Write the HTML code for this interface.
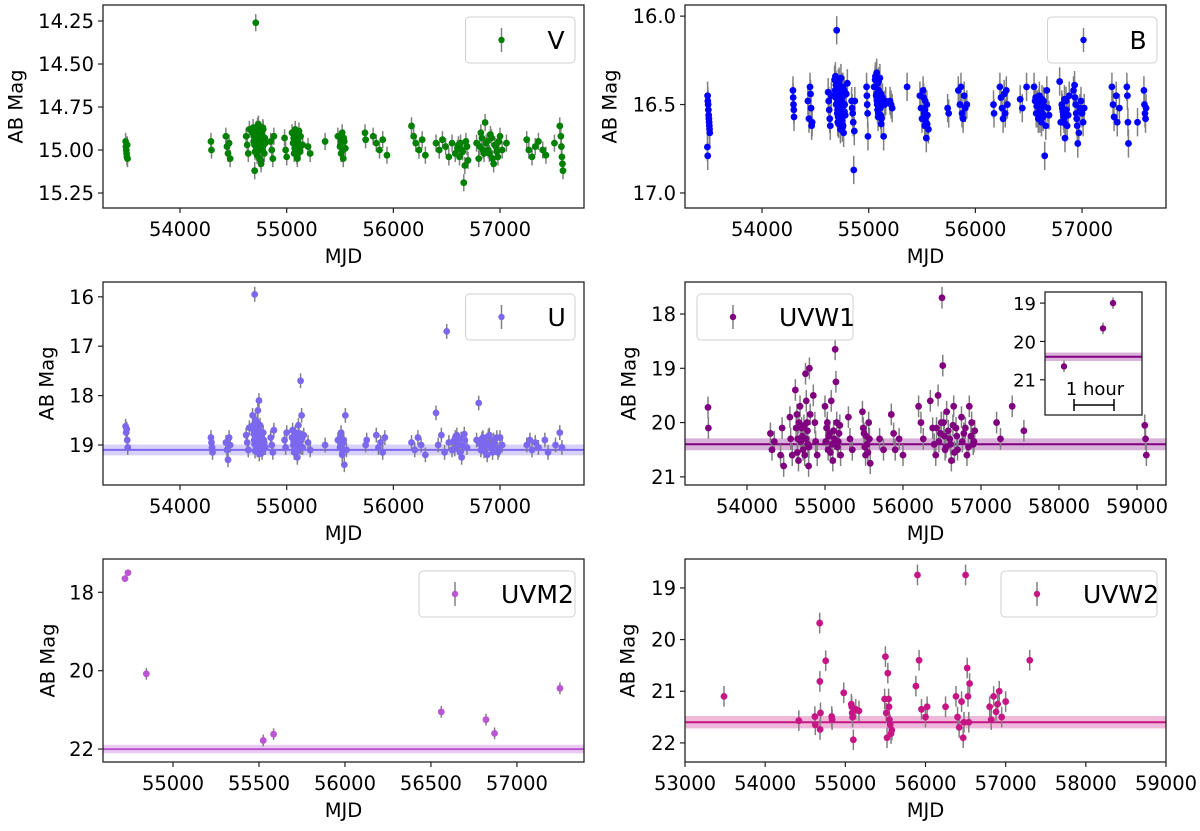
<!DOCTYPE html>
<html><head><meta charset="utf-8"><style>
html,body{margin:0;padding:0;background:#fff;}
svg{display:block;font-family:"DejaVu Sans","Liberation Sans",sans-serif;}
</style></head><body>
<svg id="fig" width="1200" height="831" viewBox="0 0 1200 831" xmlns="http://www.w3.org/2000/svg"></svg>
<script>
// ---------- data ----------
const mjdV=[53490,53493,53496,53499,53502,53505,53508,54290,54295,54430,54440,54450,54460,54470,54620,54630,54640,54650,54680,54690,54700,54710,54715,54720,54730,54735,54740,54745,54750,54755,54760,54770,54780,54790,54800,54850,54860,54870,54880,54980,54990,55000,55050,55060,55070,55080,55090,55100,55110,55120,55130,55150,55200,55220,55360,55480,55500,55510,55520,55530,55540,55550,55734,55740,55810,55840,55870,55900,55940,56170,56190,56210,56240,56270,56300,56400,56430,56460,56490,56520,56550,56580,56610,56640,56660,56670,56690,56780,56800,56820,56840,56860,56880,56900,56920,56940,56960,56980,57000,57020,57060,57250,57270,57300,57330,57360,57400,57430,57510,57560,57570,57575,57580,57585,57590,
54685,54692,54698,54703,54708,54712,54718,54722,54727,54733,54738,54742,54748,54752,54758,54763,54767,54772,54776,54785,54795,55065,55075,55085,55095,55105,55115,55125,55510,55525,55535,56600,56620,56630,56650,56680,56700,56810,56830,56850,56870,56890,56910,56930,56950,56970,56990];
const magV=[14.95,14.98,15.00,15.02,15.04,14.97,15.05,14.95,15.00,14.92,14.98,15.02,14.96,15.05,14.92,14.97,15.02,14.88,14.90,14.95,15.12,14.26,14.88,14.93,15.00,14.85,14.95,15.05,14.90,14.98,15.08,14.92,14.88,15.02,14.96,14.95,15.00,15.05,14.92,14.93,15.00,15.04,14.90,14.96,15.02,14.88,14.98,15.05,14.93,15.00,14.92,14.97,14.98,15.02,14.95,14.92,14.98,15.02,14.90,15.05,14.95,14.99,14.90,14.94,14.92,14.96,15.00,14.94,15.03,14.86,14.92,14.96,15.00,14.94,15.03,14.96,15.00,14.94,14.98,15.04,14.96,15.02,14.97,15.00,15.19,15.09,14.98,14.96,15.05,14.90,15.00,14.84,14.95,15.02,14.93,15.08,14.98,15.04,14.92,15.00,14.96,14.94,15.00,15.04,14.98,14.95,15.00,15.03,14.96,14.86,14.92,14.98,15.04,15.08,15.12,
14.87,14.92,14.97,15.01,14.89,14.94,14.99,15.03,14.86,14.91,14.96,15.00,14.88,14.93,15.06,14.90,14.95,15.00,14.87,14.97,14.93,14.93,14.99,14.91,15.03,14.95,14.89,15.01,14.95,15.00,14.93,14.99,15.04,14.96,15.01,14.95,15.06,14.98,14.93,15.02,14.96,15.00,14.91,15.05,14.97,15.01,14.95];
const errV=0.05;

const mjdB=[53490,53492,53495,53497,53500,53502,53504,53506,53508,53510,53488,53491,54290,54292,54295,54298,54300,54430,54440,54450,54455,54460,54465,54470,54620,54625,54630,54635,54640,54650,54680,54685,54690,54695,54700,54705,54710,54715,54720,54725,54730,54735,54740,54745,54750,54755,54760,54765,54770,54775,54780,54790,54800,54840,54845,54850,54855,54860,54865,54870,54980,54983,54986,54990,54993,55050,55060,55070,55075,55080,55085,55090,55095,55100,55105,55110,55115,55120,55130,55140,55150,55160,55200,55210,55220,55360,55480,55490,55500,55510,55520,55525,55530,55535,55540,55545,55550,55560,55740,55750,55840,55855,55865,55875,55885,55895,55905,55920,56170,56175,56230,56240,56250,56260,56270,56280,56290,56300,56420,56440,56480,56550,56560,56570,56580,56590,56600,56610,56620,56630,56640,56650,56660,56670,56680,56690,56790,56800,56810,56820,56830,56840,56850,56860,56870,56880,56920,56930,56940,56950,56960,56970,56980,56990,57000,57010,57020,57280,57290,57300,57320,57330,57350,57420,57425,57430,57435,57520,57580,57585,57590,57595,57600,
54688,54693,54698,54703,54708,54713,54718,54723,54728,54733,54738,54743,54748,54753,54758,54763,54768,54773,55063,55068,55073,55078,55083,55088,55093,55098,55103,55108,55113,55118,55515,55528,55538,55548,56565,56575,56585,56595,56605,56615,56625,56635,56645,56815,56825,56835,56845,56855,56935,56945,56955];
const magB=[16.45,16.48,16.50,16.53,16.56,16.58,16.60,16.62,16.64,16.66,16.74,16.79,16.42,16.46,16.50,16.53,16.57,16.48,16.58,16.40,16.44,16.52,16.62,16.60,16.43,16.48,16.53,16.58,16.62,16.45,16.36,16.42,16.46,16.50,16.08,16.55,16.60,16.38,16.44,16.52,16.58,16.64,16.35,16.40,16.48,16.54,16.62,16.66,16.42,16.50,16.56,16.44,16.38,16.48,16.52,16.55,16.60,16.87,16.65,16.48,16.40,16.45,16.50,16.55,16.68,16.40,16.36,16.45,16.32,16.50,16.38,16.55,16.42,16.48,16.35,16.52,16.44,16.58,16.46,16.68,16.50,16.48,16.48,16.50,16.52,16.40,16.45,16.52,16.58,16.42,16.55,16.62,16.48,16.60,16.69,16.50,16.56,16.64,16.52,16.55,16.42,16.50,16.40,16.55,16.58,16.45,16.52,16.50,16.50,16.55,16.40,16.46,16.52,16.58,16.44,16.55,16.42,16.50,16.47,16.52,16.40,16.40,16.48,16.55,16.50,16.58,16.45,16.52,16.60,16.55,16.48,16.79,16.62,16.42,16.52,16.56,16.37,16.60,16.50,16.54,16.58,16.69,16.48,16.62,16.56,16.45,16.42,16.39,16.50,16.58,16.72,16.66,16.52,16.48,16.55,16.60,16.52,16.40,16.50,16.57,16.45,16.60,16.52,16.40,16.45,16.60,16.72,16.60,16.42,16.50,16.55,16.58,16.52,
16.34,16.39,16.44,16.49,16.53,16.57,16.61,16.37,16.41,16.46,16.51,16.55,16.59,16.63,16.40,16.45,16.50,16.54,16.34,16.40,16.44,16.48,16.53,16.57,16.37,16.43,16.47,16.51,16.56,16.61,16.46,16.53,16.57,16.61,16.46,16.51,16.55,16.49,16.58,16.53,16.47,16.57,16.51,16.52,16.56,16.47,16.61,16.53,16.46,16.55,16.62];
const errB=0.08;

const mjdU=[53490,53495,53500,53505,53510,54290,54295,54300,54305,54430,54440,54450,54460,54470,54620,54630,54640,54650,54680,54690,54695,54700,54705,54710,54720,54725,54730,54735,54740,54745,54750,54760,54770,54780,54790,54800,54850,54860,54870,54880,54980,54990,55000,55050,55060,55070,55080,55090,55100,55110,55120,55130,55140,55150,55160,55200,55220,55360,55480,55500,55510,55520,55530,55540,55550,55560,55740,55750,55840,55860,55880,55900,55920,56170,56200,56230,56260,56300,56400,56420,56450,56480,56500,56520,56550,56580,56610,56640,56670,56690,56780,56800,56820,56840,56860,56880,56900,56920,56950,56980,57000,57020,57250,57280,57300,57330,57360,57420,57450,57520,57560,57580,
54685,54692,54698,54703,54712,54717,54723,54728,54733,54738,54743,54748,54755,54765,54775,54785,55055,55065,55075,55085,55095,55105,55115,55125,55135,55145,55505,55515,55525,55535,56565,56575,56595,56605,56625,56635,56655,56665,56810,56830,56850,56870,56890,56910,56930,56940,56960,56970,56990];
const magU=[18.62,18.75,18.68,18.90,19.05,18.85,18.95,19.05,19.15,18.95,19.10,19.30,18.85,19.00,18.80,18.95,19.10,18.65,18.40,18.70,18.90,15.95,19.00,18.50,18.80,19.10,18.30,18.95,18.10,19.05,18.60,18.85,19.15,18.75,18.95,19.05,18.85,19.00,19.15,18.70,18.90,19.05,18.75,18.85,19.00,19.15,18.75,18.95,19.25,18.60,18.90,17.70,18.40,19.05,18.80,18.95,19.10,19.00,18.90,19.05,18.75,19.20,18.95,19.40,18.40,19.10,19.00,18.90,18.80,19.05,18.95,19.15,18.85,18.95,19.10,18.85,19.00,19.20,18.35,19.00,18.80,19.15,16.70,18.95,19.10,18.85,19.00,19.25,18.90,19.05,18.90,18.15,19.10,18.85,19.00,19.20,18.80,19.05,18.95,19.15,18.85,19.00,19.00,18.90,19.10,18.95,19.05,18.90,19.15,19.00,18.75,19.05,
18.60,18.78,18.98,19.12,18.68,18.88,19.02,18.55,18.82,18.92,19.18,18.72,18.98,18.84,19.08,18.90,18.70,18.92,19.08,18.82,18.98,19.12,18.76,18.94,19.05,18.86,18.85,19.00,19.12,18.90,18.92,19.08,18.80,18.98,19.15,18.88,19.02,18.78,18.98,18.88,19.12,18.95,18.82,19.02,19.15,18.90,19.05,18.85,19.10];
const errU=0.15;
const meanU=19.1, bandU=0.11;

const mjdW1=[53500,53505,54300,54320,54350,54430,54450,54470,54550,54560,54580,54620,54640,54650,54660,54680,54700,54720,54750,54760,54770,54780,54790,54800,54810,54850,54870,54880,54900,55000,55020,55040,55060,55080,55100,55120,55130,55140,55150,55160,55180,55200,55300,55320,55350,55480,55500,55520,55540,55560,55580,55700,55750,55850,55880,55900,55950,56000,56200,56230,56260,56350,56380,56400,56420,56450,56480,56500,56510,56520,56540,56560,56600,56620,56650,56680,56700,56750,56780,56820,56850,56880,56900,56920,57200,57250,57400,57550,59100,59110,59120,
54630,54645,54665,54690,54710,54730,54740,54755,54775,54795,55010,55030,55050,55070,55090,55110,55170,55190,55490,55510,55530,55550,55570,56430,56460,56490,56530,56550,56580,56610,56640,56660,56690,56760,56800,56840,56870,56910];
const magW1=[19.72,20.10,20.20,20.50,20.35,20.60,20.10,20.80,19.90,20.30,20.60,19.40,19.85,20.30,20.70,19.70,20.10,20.50,19.10,19.60,20.00,20.40,20.80,19.00,19.85,19.50,20.00,20.35,20.60,19.70,20.10,20.50,20.20,19.60,20.70,20.30,18.65,19.25,20.00,20.45,20.20,20.60,19.90,20.30,20.50,19.80,20.20,20.60,20.40,20.00,20.75,20.30,20.50,19.85,20.20,20.50,20.30,20.60,19.70,20.00,20.30,19.60,20.10,20.40,20.60,19.50,20.20,17.70,18.95,20.00,20.50,19.80,20.30,20.70,19.70,20.10,20.50,19.90,20.20,20.60,19.70,20.00,20.40,20.15,20.00,20.30,19.70,20.15,20.05,20.30,20.60,
20.10,20.55,20.00,20.35,20.25,20.05,20.60,20.30,20.15,20.45,20.35,20.00,20.25,20.55,20.40,20.15,20.35,20.05,20.10,20.45,20.25,20.55,20.30,20.10,20.35,20.00,20.25,20.45,20.15,20.40,20.05,20.55,20.25,20.35,20.10,20.45,20.25,20.35];
const errW1=0.2;
const meanW1=20.4, bandW1=0.11;
// inset (x in hours)
const hoursIn=[0,0.975,1.225];
const magIn=[20.65,19.66,19.0];
const errIn=0.15;

const mjdM2=[54721,54738,54845,55525,55585,56560,56820,56870,57250];
const magM2=[17.65,17.50,20.08,21.78,21.62,21.05,21.25,21.60,20.45];
const errM2=[0.08,0.08,0.15,0.15,0.15,0.15,0.15,0.15,0.15];
const meanM2=22.0, bandM2=0.11;

const mjdW2=[53486,54420,54620,54625,54680,54682,54685,54690,54755,54830,54835,54980,55075,55080,55085,55090,55100,55130,55170,55490,55500,55510,55520,55530,55540,55545,55550,55560,55570,55580,55900,55920,55880,55950,56000,56020,56250,56380,56400,56420,56500,56450,56470,56480,56520,56530,56540,56550,56800,56820,56850,56880,56900,56920,56950,57000,57300];
const magW2=[21.10,21.57,21.49,21.65,19.68,20.81,21.74,21.42,20.41,21.49,21.55,21.03,21.25,21.30,21.42,21.50,21.94,21.35,21.38,21.15,20.33,21.42,21.90,20.65,21.15,21.30,21.55,21.65,21.82,21.75,18.75,20.40,20.90,21.35,21.50,21.30,21.30,21.10,21.50,21.70,18.75,21.20,21.90,21.60,20.55,21.10,21.60,20.85,21.30,21.55,21.10,21.40,21.25,21.00,21.50,21.20,20.40];
const errW2=0.2;
const meanW2=21.6, bandW2=0.12;

const ticksX4=[54000,55000,56000,57000];
const ticksXW1=[54000,55000,56000,57000,58000,59000];
const ticksXM2=[55000,55500,56000,56500,57000];
const ticksXW2=[53000,54000,55000,56000,57000,58000,59000];
const ticksYV=[14.25,14.5,14.75,15.0,15.25];
const ticksYB=[16.0,16.5,17.0];
const ticksYU=[16,17,18,19];
const ticksYW1=[18,19,20,21];
const ticksYM2=[18,20,22];
const ticksYW2=[19,20,21,22];
const ticksYIn=[19,20,21];

// ---------- drawing ----------
const NS="http://www.w3.org/2000/svg";
const svg=document.getElementById('fig');
function mk(tag,attrs,parent){const e=document.createElementNS(NS,tag);for(const k in attrs)e.setAttribute(k,attrs[k]);(parent||svg).appendChild(e);return e;}

function panel(p){
  const g=mk('g',{});
  
  
  const X=v=>p.x+(v-p.x0)/(p.x1-p.x0)*p.w;
  const Y=v=>p.y+(v-p.y0)/(p.y1-p.y0)*p.h;
  const clip='clip-'+p.name;
  const cp=mk('clipPath',{id:clip},g);mk('rect',{x:p.x,y:p.y,width:p.w,height:p.h},cp);
  const plot=mk('g',{'clip-path':'url(#'+clip+')'},g);
  if(p.mean!==undefined){
    const band=mk('rect',{x:p.x,y:Y(p.mean-p.band),width:p.w,height:Y(p.mean+p.band)-Y(p.mean-p.band),fill:p.color,'fill-opacity':0.3},plot);
    
    
    const ln=mk('line',{x1:p.x,x2:p.x+p.w,y1:Y(p.mean),y2:Y(p.mean),stroke:p.color,'stroke-width':2},plot);
    
    
  }
  const eg=mk('g',{},plot);
  
  
  for(let i=0;i<p.xs.length;i++){
    const e=Array.isArray(p.err)?p.err[i]:p.err;
    mk('line',{x1:X(p.xs[i]),x2:X(p.xs[i]),y1:Y(p.ys[i]-e),y2:Y(p.ys[i]+e),stroke:'#808080','stroke-width':1.5},eg);
  }
  const pg=mk('g',{},plot);
  
  
  for(let i=0;i<p.xs.length;i++){
    const c=mk('circle',{cx:X(p.xs[i]),cy:Y(p.ys[i]),r:p.r||3.4,fill:p.color},pg);
    
    
  }
  const fr=mk('rect',{x:p.x,y:p.y,width:p.w,height:p.h,fill:'none',stroke:'#222','stroke-width':1.3},g);
  
  
  const fs=p.fs||19.5;
  (p.xt||[]).forEach(t=>{
    mk('line',{x1:X(t),x2:X(t),y1:p.y+p.h,y2:p.y+p.h+5,stroke:'#222','stroke-width':1.2},g);
    const tx=mk('text',{x:X(t),y:p.y+p.h+28,'font-size':fs,'text-anchor':'middle',fill:'#000'},g);
    tx.textContent=t;
    
    
  });
  p.yt.forEach(t=>{
    mk('line',{x1:p.x-5,x2:p.x,y1:Y(t),y2:Y(t),stroke:'#222','stroke-width':1.2},g);
    const tx=mk('text',{x:p.x-9,y:Y(t)+7,'font-size':fs,'text-anchor':'end',fill:'#000'},g);
    tx.textContent=p.ytf?p.ytf(t):t;
    
    
  });
  if(p.xlabel){
    const xl=mk('text',{x:p.x+p.w/2,y:p.y+p.h+55,'font-size':19.5,'text-anchor':'middle'},g);
    xl.textContent='MJD';
    
    
    const yl=mk('text',{x:p.ylx,y:p.y+p.h/2,'font-size':19.5,'text-anchor':'middle',transform:'rotate(-90 '+p.ylx+' '+(p.y+p.h/2)+')','dominant-baseline':'middle'},g);
    yl.textContent='AB Mag';
    
    
  }
  if(p.legend){
    const L=p.legend;
    const tw=L.label.length*15.5;
    const lw=82+tw+12;
    const lx=L.left!==undefined?L.left:(p.x+p.w-9-lw);
    const lg=mk('g',{},g);
    
    
    mk('rect',{x:lx,y:p.y+12,width:lw,height:46,rx:4,fill:'#fff','fill-opacity':0.85,stroke:'#d0d0d0','stroke-width':1},lg);
    const mx=lx+36, my=p.y+35;
    mk('line',{x1:mx,x2:mx,y1:my-12,y2:my+12,stroke:'#808080','stroke-width':1.5},lg);
    mk('circle',{cx:mx,cy:my,r:3.2,fill:p.color},lg);
    const lt=mk('text',{x:lx+82,y:my+9,'font-size':25,fill:'#000'},lg);
    lt.textContent=L.label;
    
    
  }
  return {X,Y};
}

const fmt2=t=>t.toFixed(2), fmt1=t=>t.toFixed(1);
panel({name:'v',x:103,y:5,w:481,h:203,x0:53278,x1:57787,y0:14.157,y1:15.337,xs:mjdV,ys:magV,err:errV,color:'#008000',xt:ticksX4,yt:ticksYV,ytf:fmt2,xlabel:true,ylx:17,legend:{label:'V'}});
panel({name:'b',x:685,y:5,w:481,h:203,x0:53278,x1:57787,y0:15.937,y1:17.085,xs:mjdB,ys:magB,err:errB,color:'#0000ff',xt:ticksX4,yt:ticksYB,ytf:fmt1,xlabel:true,ylx:611,legend:{label:'B'}});
panel({name:'u',x:103,y:282,w:481,h:203,x0:53278,x1:57787,y0:15.70,y1:19.81,xs:mjdU,ys:magU,err:errU,color:'#7b68ee',xt:ticksX4,yt:ticksYU,xlabel:true,ylx:48,mean:meanU,band:bandU,legend:{label:'U'}});
panel({name:'uvw1',x:685,y:282,w:481,h:203,x0:53205,x1:59372,y0:17.41,y1:21.15,xs:mjdW1,ys:magW1,err:errW1,color:'#800080',xt:ticksXW1,yt:ticksYW1,xlabel:true,ylx:630,mean:meanW1,band:bandW1,legend:{label:'UVW1',left:697}});
// inset
(function(){
  const ins=mk('rect',{x:1045,y:292,width:97,height:123,fill:'#fff'});
  
  
  panel({name:'uvw1-inset',x:1045,y:292,w:97,h:123,x0:-0.475,x1:1.95,y0:18.71,y1:21.92,xs:hoursIn,ys:magIn,err:errIn,color:'#800080',yt:ticksYIn,fs:18,mean:meanW1,band:bandW1,r:3.2});
  const sb=mk('g',{});
  
  
  mk('line',{x1:1074,x2:1114,y1:405,y2:405,stroke:'#000','stroke-width':1.5},sb);
  mk('line',{x1:1074,x2:1074,y1:399,y2:411,stroke:'#000','stroke-width':1.5},sb);
  mk('line',{x1:1114,x2:1114,y1:399,y2:411,stroke:'#000','stroke-width':1.5},sb);
  const t=mk('text',{x:1095,y:395,'font-size':18,'text-anchor':'middle'},sb);
  t.textContent='1 hour';
})();
panel({name:'uvm2',x:103,y:559,w:481,h:203,x0:54593,x1:57390,y0:17.15,y1:22.33,xs:mjdM2,ys:magM2,err:errM2,color:'#ba55d3',xt:ticksXM2,yt:ticksYM2,xlabel:true,ylx:49,mean:meanM2,band:bandM2,legend:{label:'UVM2'}});
panel({name:'uvw2',x:685,y:559,w:481,h:203,x0:53000,x1:59000,y0:18.44,y1:22.37,xs:mjdW2,ys:magW2,err:errW2,color:'#c71585',xt:ticksXW2,yt:ticksYW2,xlabel:true,ylx:629,mean:meanW2,band:bandW2,legend:{label:'UVW2'}});
</script>
</body></html>
